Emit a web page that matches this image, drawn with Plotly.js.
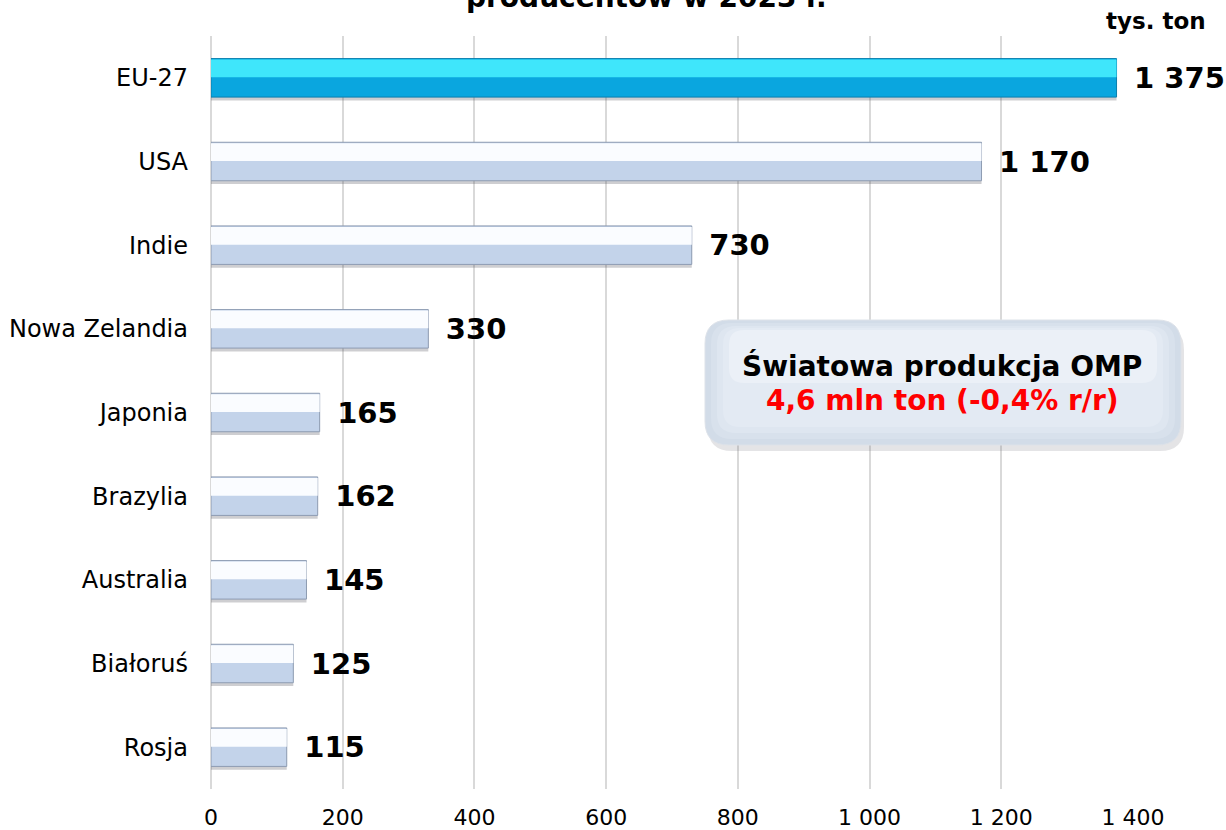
<!DOCTYPE html>
<html>
<head>
<meta charset="utf-8">
<script src="https://cdn.plot.ly/plotly-3.0.1.min.js"></script>
<style>html,body{margin:0;padding:0;background:#fff;}#chart{width:1226px;height:830px;}</style>
</head>
<body>
<div id="chart"></div>
<script>
const countries = ["EU-27", "USA", "Indie", "Nowa Zelandia", "Japonia", "Brazylia", "Australia", "Białoruś", "Rosja"];
const production = [1375, 1170, 730, 330, 165, 162, 145, 125, 115];
const xTickValues = [0, 200, 400, 600, 800, 1000, 1200, 1400];
const xTickLabels = ["0", "200", "400", "600", "800", "1 000", "1 200", "1 400"];
const highlighted = "EU-27";
const titleText = "producentów w 2023 r.";
const unitText = "tys. ton";
const boxLine1 = "Światowa produkcja OMP";
const boxLine2 = "4,6 mln ton (-0,4% r/r)";

const FONT = "DejaVu Sans, Verdana, sans-serif";
const isHi = countries.map(c => c === highlighted);
const lowColor = isHi.map(h => h ? "#0aa6df" : "#c3d3ea");
const topColor = isHi.map(h => h ? "#3fe6fb" : "#fafcff");
const edgeColor = isHi.map(h => h ? "#0b7fae" : "#8e9cb2");
const fmt = v => String(v).replace(/\B(?=(\d{3})+(?!\d))/g, " ");

const W = 0.46;
const traces = [
  { // shadow
    type: "bar", orientation: "h", y: countries, x: production,
    offset: -W/2 + 0.04, width: W, marker: {color: "rgba(80,80,90,0.28)", line: {width: 0}},
    hoverinfo: "skip", showlegend: false
  },
  { // main body
    type: "bar", orientation: "h", y: countries, x: production,
    offset: -W/2, width: W, marker: {color: lowColor, line: {color: edgeColor, width: 1}},
    text: production.map(v => "\u2002" + fmt(v)), textposition: "outside",
    textfont: {family: FONT, size: 29, color: "#000", weight: "bold"},
    cliponaxis: false, showlegend: false
  },
  { // top highlight band
    type: "bar", orientation: "h", y: countries, x: production,
    offset: -W/2 + 0.012, width: W * 0.46, marker: {color: topColor, line: {width: 0}},
    hoverinfo: "skip", showlegend: false
  }
];

// rounded box in paper coords
const pw = 922, ph = 753;
function roundRect(x0, x1, y0, y1, r) {
  const rx = r / pw, ry = r / ph;
  return `M ${x0+rx},${y1} L ${x1-rx},${y1} Q ${x1},${y1} ${x1},${y1-ry} L ${x1},${y0+ry} Q ${x1},${y0} ${x1-rx},${y0} L ${x0+rx},${y0} Q ${x0},${y0} ${x0},${y0+ry} L ${x0},${y1-ry} Q ${x0},${y1} ${x0+rx},${y1} Z`;
}
const bx0 = (705-211)/pw, bx1 = (1181-211)/pw;
const by1 = 1-(320-36)/ph, by0 = 1-(445-36)/ph;
const shapes = [
  {type: "path", xref: "paper", yref: "paper", path: roundRect(bx0+3/pw, bx1+3/pw, by0-6/ph, by1-6/ph, 24), fillcolor: "rgba(120,120,130,0.2)", line: {width: 0}, layer: "above"},
  {type: "path", xref: "paper", yref: "paper", path: roundRect(bx0, bx1, by0, by1, 24), fillcolor: "#d2dce8", line: {color: "#dde2e9", width: 1}, layer: "above"},
  {type: "path", xref: "paper", yref: "paper", path: roundRect(bx0+6/pw, bx1-6/pw, by0+6/ph, by1-3/ph, 21), fillcolor: "#d8e1ec", line: {width: 0}, layer: "above"},
  {type: "path", xref: "paper", yref: "paper", path: roundRect(bx0+12/pw, bx1-12/pw, by0+12/ph, by1-6/ph, 19), fillcolor: "#dee6f0", line: {width: 0}, layer: "above"},
  {type: "path", xref: "paper", yref: "paper", path: roundRect(bx0+18/pw, bx1-18/pw, by0+18/ph, by1-8/ph, 17), fillcolor: "#e3eaf3", line: {width: 0}, layer: "above"},
  {type: "path", xref: "paper", yref: "paper", path: roundRect(bx0+24/pw, bx1-24/pw, by0+62/ph, by1-10/ph, 15), fillcolor: "#ebf0f7", line: {width: 0}, layer: "above"}
];

const layout = {
  width: 1226, height: 830,
  margin: {l: 211, r: 93, t: 36, b: 41},
  paper_bgcolor: "#fff", plot_bgcolor: "#fff",
  barmode: "overlay",
  font: {family: FONT, color: "#000"},
  xaxis: {
    range: [0, 1400], tickvals: xTickValues, ticktext: xTickLabels,
    showgrid: true, gridcolor: "#d9d9d9", gridwidth: 2, zeroline: true, zerolinecolor: "#d9d9d9", zerolinewidth: 2,
    showline: false, ticks: "", tickfont: {family: FONT, size: 22, color: "#000"}, ticklabelstandoff: 13,
    fixedrange: true
  },
  yaxis: {
    type: "category", autorange: "reversed", range: [8.5, -0.5],
    showgrid: false, zeroline: false, showline: false, ticks: "",
    tickfont: {family: FONT, size: 24, color: "#000"}, ticklabelstandoff: 22,
    fixedrange: true
  },
  shapes: shapes,
  annotations: [
    {xref: "paper", yref: "paper", x: (646-211)/pw, y: 1 + 20/ph, xanchor: "center", yanchor: "bottom",
     text: titleText, showarrow: false, font: {family: FONT, size: 28, color: "#000", weight: "bold"}},
    {xref: "paper", yref: "paper", x: (1208-211)/pw, y: 1 + 0/ph, xanchor: "right", yanchor: "bottom",
     text: unitText, showarrow: false, font: {family: FONT, size: 23, color: "#000", weight: "bold"}},
    {xref: "paper", yref: "paper", x: (942-211)/pw, y: 1-(366-36)/ph, xanchor: "center", yanchor: "middle",
     text: boxLine1, showarrow: false, font: {family: FONT, size: 28, color: "#000", weight: "bold"}},
    {xref: "paper", yref: "paper", x: (942-211)/pw, y: 1-(400-36)/ph, xanchor: "center", yanchor: "middle",
     text: boxLine2, showarrow: false, font: {family: FONT, size: 28, color: "#ff0000", weight: "bold"}}
  ]
};

Plotly.newPlot("chart", traces, layout, {displayModeBar: false, staticPlot: true});
</script>
</body>
</html>
